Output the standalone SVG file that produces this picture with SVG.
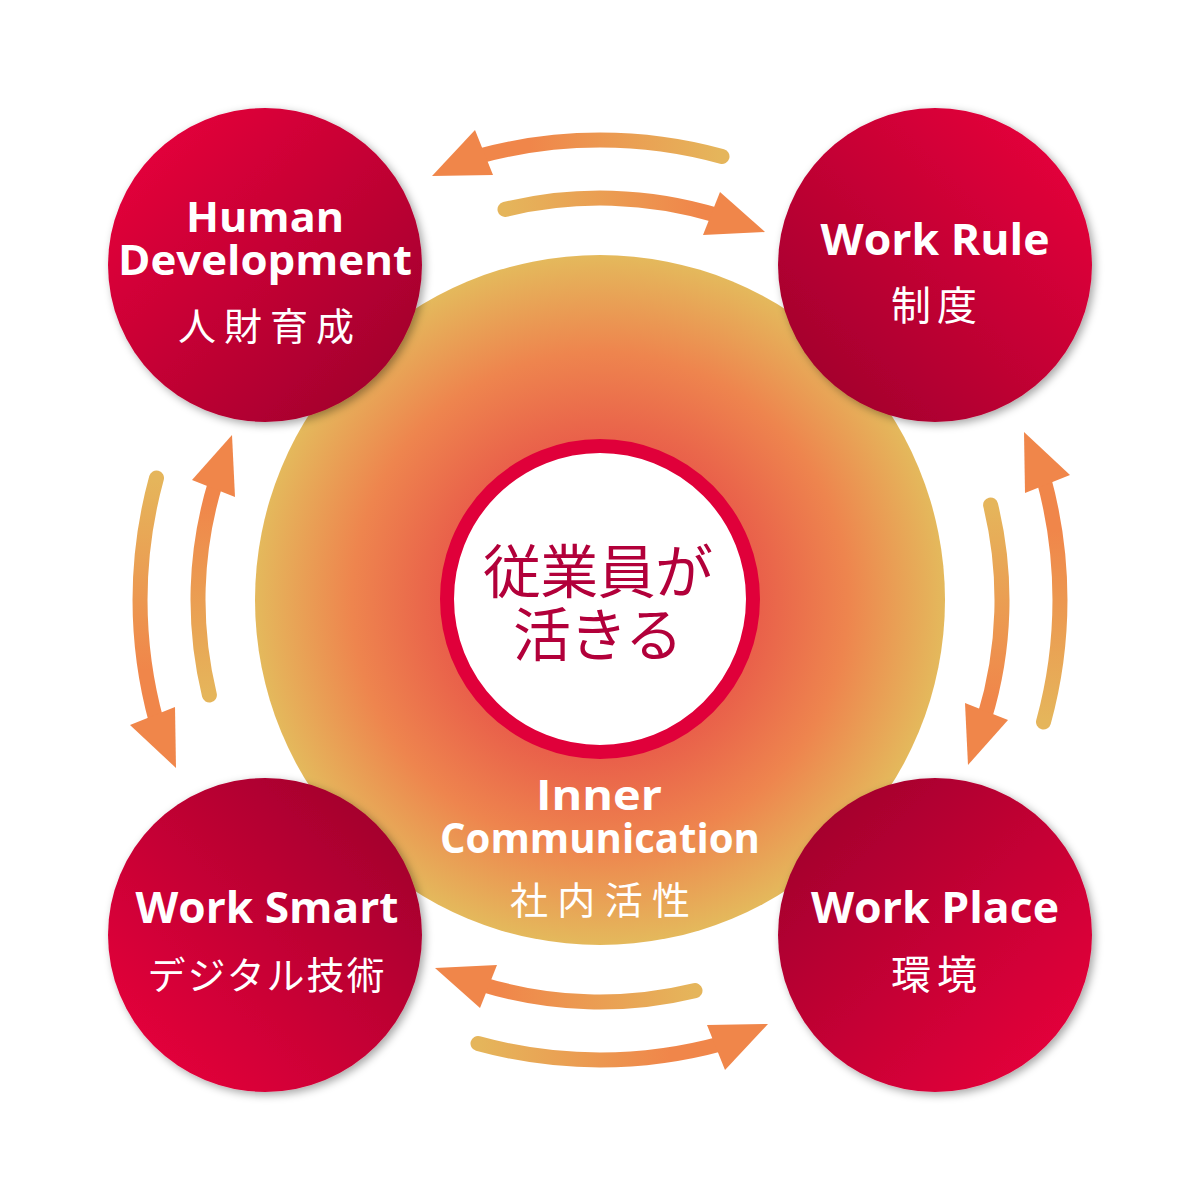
<svg xmlns="http://www.w3.org/2000/svg" width="1200" height="1200" viewBox="0 0 1200 1200">
<defs>
  <radialGradient id="bigGrad" cx="600" cy="600" r="345" gradientUnits="userSpaceOnUse">
    <stop offset="0" stop-color="#e64848"/>
    <stop offset="0.46" stop-color="#e9604a"/>
    <stop offset="0.72" stop-color="#ee854e"/>
    <stop offset="1" stop-color="#e4b95c"/>
  </radialGradient>
  <linearGradient id="gTL" x1="0.15" y1="0.15" x2="0.85" y2="0.85">
    <stop offset="0" stop-color="#e1003a"/><stop offset="1" stop-color="#a6002e"/>
  </linearGradient>
  <linearGradient id="gTR" x1="0.85" y1="0.15" x2="0.15" y2="0.85">
    <stop offset="0" stop-color="#e1003a"/><stop offset="1" stop-color="#a6002e"/>
  </linearGradient>
  <linearGradient id="gBL" x1="0.15" y1="0.85" x2="0.85" y2="0.15">
    <stop offset="0" stop-color="#e1003a"/><stop offset="1" stop-color="#a6002e"/>
  </linearGradient>
  <linearGradient id="gBR" x1="0.85" y1="0.85" x2="0.15" y2="0.15">
    <stop offset="0" stop-color="#e1003a"/><stop offset="1" stop-color="#a6002e"/>
  </linearGradient>
  <linearGradient id="arrA" x1="720" y1="150" x2="530" y2="150" gradientUnits="userSpaceOnUse">
    <stop offset="0" stop-color="#e5b55b"/><stop offset="1" stop-color="#f0864a"/>
  </linearGradient>
  <linearGradient id="arrB" x1="505" y1="200" x2="700" y2="200" gradientUnits="userSpaceOnUse">
    <stop offset="0" stop-color="#e5b55b"/><stop offset="1" stop-color="#f0864a"/>
  </linearGradient>
  <filter id="shadow" x="-20%" y="-20%" width="140%" height="140%">
    <feDropShadow dx="3" dy="3" stdDeviation="4" flood-color="#000" flood-opacity="0.35"/>
  </filter>
  <g id="arrowPair">
    <path d="M 722 156.5 A 460 460 0 0 0 478 156.5" class="shaft" stroke="url(#arrA)"/>
    <polygon points="432,176 475,130 493,175" class="head"/>
    <path d="M 505 209.4 A 402 402 0 0 1 718 215.7" class="shaft" stroke="url(#arrB)"/>
    <polygon points="765,232 720,192 703,235" class="head"/>
  </g>
</defs>
<style>
  .shaft { fill: none; stroke-width: 15; stroke-linecap: round; }
  .head { fill: #f0864a; }
  .en { font-family: "Open Sans", "Noto Sans", sans-serif; font-weight: 700; fill: #ffffff; text-anchor: middle; }
  .jp { font-family: "Noto Sans CJK JP", sans-serif; font-weight: 400; fill: #ffffff; text-anchor: middle; }
  .center { font-family: "Noto Sans CJK JP", sans-serif; font-weight: 400; fill: #b2003a; text-anchor: middle; font-size: 58px; }
  .corner { filter: url(#shadow); }
</style>
<rect width="1200" height="1200" fill="#ffffff"/>

<g id="inner-communication">
  <circle cx="600" cy="600" r="345" fill="url(#bigGrad)"/>
  <text class="en" x="599" y="810" font-size="42" textLength="126" lengthAdjust="spacingAndGlyphs">Inner</text>
  <text class="en" x="600" y="853" font-size="42" textLength="320" lengthAdjust="spacingAndGlyphs">Communication</text>
  <text class="jp" x="600" y="914" font-size="38" textLength="180" lengthAdjust="spacing">社内活性</text>
</g>

<g id="core">
  <circle cx="600" cy="599" r="153" fill="#ffffff" stroke="#e0003a" stroke-width="14"/>
  <text class="center" x="598" y="593" textLength="230" lengthAdjust="spacing">従業員が</text>
  <text class="center" x="598" y="656" textLength="170" lengthAdjust="spacing">活きる</text>
</g>

<g id="human-development">
  <circle class="corner" cx="265" cy="265" r="157" fill="url(#gTL)"/>
  <text class="en" x="265" y="232" font-size="42" textLength="158" lengthAdjust="spacingAndGlyphs">Human</text>
  <text class="en" x="265" y="275" font-size="42" textLength="294" lengthAdjust="spacingAndGlyphs">Development</text>
  <text class="jp" x="266" y="340" font-size="38" textLength="176" lengthAdjust="spacing">人財育成</text>
</g>

<g id="work-rule">
  <circle class="corner" cx="935" cy="265" r="157" fill="url(#gTR)"/>
  <text class="en" x="935" y="255" font-size="43" textLength="229" lengthAdjust="spacingAndGlyphs">Work Rule</text>
  <text class="jp" x="934" y="320" font-size="40" textLength="86" lengthAdjust="spacing">制度</text>
</g>

<g id="work-smart">
  <circle class="corner" cx="265" cy="935" r="157" fill="url(#gBL)"/>
  <text class="en" x="267" y="923" font-size="43" textLength="263" lengthAdjust="spacingAndGlyphs">Work Smart</text>
  <text class="jp" x="266" y="989" font-size="38" textLength="237" lengthAdjust="spacing">デジタル技術</text>
</g>

<g id="work-place">
  <circle class="corner" cx="935" cy="935" r="157" fill="url(#gBR)"/>
  <text class="en" x="935" y="923" font-size="43" textLength="248" lengthAdjust="spacingAndGlyphs">Work Place</text>
  <text class="jp" x="934" y="989" font-size="40" textLength="86" lengthAdjust="spacing">環境</text>
</g>

<g id="connectors">
  <use href="#arrowPair"/>
  <use href="#arrowPair" transform="rotate(-90 600 600)"/>
  <use href="#arrowPair" transform="rotate(180 600 600)"/>
  <use href="#arrowPair" transform="rotate(90 600 600)"/>
</g>
</svg>
